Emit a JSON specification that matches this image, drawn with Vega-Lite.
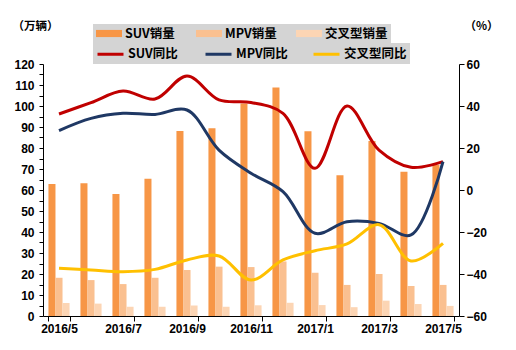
{
  "$schema": "https://vega.github.io/schema/vega-lite/v6.json",
  "width": 416,
  "height": 252,
  "autosize": {"type": "none"},
  "padding": {"left": 43, "top": 64, "right": 57, "bottom": 34},
  "background": "white",
  "config": {
    "view": {"stroke": null},
    "font": "Liberation Sans",
    "axis": {
      "labelFont": "Liberation Sans",
      "labelFontWeight": "bold",
      "labelFontSize": 12,
      "labelColor": "#000000",
      "domainColor": "#000000",
      "tickColor": "#000000",
      "grid": false,
      "titleFont": "Noto Sans CJK SC",
      "titleFontWeight": "bold",
      "titleFontSize": 11.5,
      "titleColor": "#000000"
    },
    "legend": {
      "labelFont": "Noto Sans CJK SC",
      "labelFontWeight": "bold",
      "labelFontSize": 12.5,
      "labelColor": "#000000",
      "fillColor": "#D4D4D4",
      "padding": 3
    }
  },
  "datasets": {
    "sales": [
      {"month": "2016/5", "series": "SUV销量", "value": 62.8},
      {"month": "2016/6", "series": "SUV销量", "value": 63.2},
      {"month": "2016/7", "series": "SUV销量", "value": 58.1},
      {"month": "2016/8", "series": "SUV销量", "value": 65.3},
      {"month": "2016/9", "series": "SUV销量", "value": 88.1},
      {"month": "2016/10", "series": "SUV销量", "value": 89.4},
      {"month": "2016/11", "series": "SUV销量", "value": 101.2},
      {"month": "2016/12", "series": "SUV销量", "value": 108.8},
      {"month": "2017/1", "series": "SUV销量", "value": 88.0},
      {"month": "2017/2", "series": "SUV销量", "value": 67.0},
      {"month": "2017/3", "series": "SUV销量", "value": 83.3},
      {"month": "2017/4", "series": "SUV销量", "value": 68.7},
      {"month": "2017/5", "series": "SUV销量", "value": 71.9},
      {"month": "2016/5", "series": "MPV销量", "value": 18.2},
      {"month": "2016/6", "series": "MPV销量", "value": 17.1},
      {"month": "2016/7", "series": "MPV销量", "value": 15.2},
      {"month": "2016/8", "series": "MPV销量", "value": 18.2},
      {"month": "2016/9", "series": "MPV销量", "value": 21.9},
      {"month": "2016/10", "series": "MPV销量", "value": 23.5},
      {"month": "2016/11", "series": "MPV销量", "value": 23.3},
      {"month": "2016/12", "series": "MPV销量", "value": 26.0},
      {"month": "2017/1", "series": "MPV销量", "value": 20.6},
      {"month": "2017/2", "series": "MPV销量", "value": 14.8},
      {"month": "2017/3", "series": "MPV销量", "value": 20.0},
      {"month": "2017/4", "series": "MPV销量", "value": 14.3},
      {"month": "2017/5", "series": "MPV销量", "value": 14.8},
      {"month": "2016/5", "series": "交叉型销量", "value": 6.2},
      {"month": "2016/6", "series": "交叉型销量", "value": 5.9},
      {"month": "2016/7", "series": "交叉型销量", "value": 4.4},
      {"month": "2016/8", "series": "交叉型销量", "value": 4.4},
      {"month": "2016/9", "series": "交叉型销量", "value": 5.0},
      {"month": "2016/10", "series": "交叉型销量", "value": 4.4},
      {"month": "2016/11", "series": "交叉型销量", "value": 5.1},
      {"month": "2016/12", "series": "交叉型销量", "value": 6.3},
      {"month": "2017/1", "series": "交叉型销量", "value": 5.2},
      {"month": "2017/2", "series": "交叉型销量", "value": 4.2},
      {"month": "2017/3", "series": "交叉型销量", "value": 7.3},
      {"month": "2017/4", "series": "交叉型销量", "value": 5.7},
      {"month": "2017/5", "series": "交叉型销量", "value": 4.8}
    ],
    "growth": [
      {"month": "2016/5", "series": "SUV同比", "value": 36.2},
      {"month": "2016/6", "series": "SUV同比", "value": 41.6},
      {"month": "2016/7", "series": "SUV同比", "value": 47.1},
      {"month": "2016/8", "series": "SUV同比", "value": 43.3},
      {"month": "2016/9", "series": "SUV同比", "value": 54.3},
      {"month": "2016/10", "series": "SUV同比", "value": 42.9},
      {"month": "2016/11", "series": "SUV同比", "value": 41.7},
      {"month": "2016/12", "series": "SUV同比", "value": 36.5},
      {"month": "2017/1", "series": "SUV同比", "value": 10.3},
      {"month": "2017/2", "series": "SUV同比", "value": 40.0},
      {"month": "2017/3", "series": "SUV同比", "value": 19.0},
      {"month": "2017/4", "series": "SUV同比", "value": 10.8},
      {"month": "2017/5", "series": "SUV同比", "value": 13.5},
      {"month": "2016/5", "series": "MPV同比", "value": 28.3},
      {"month": "2016/6", "series": "MPV同比", "value": 34.1},
      {"month": "2016/7", "series": "MPV同比", "value": 36.5},
      {"month": "2016/8", "series": "MPV同比", "value": 36.0},
      {"month": "2016/9", "series": "MPV同比", "value": 38.1},
      {"month": "2016/10", "series": "MPV同比", "value": 19.0},
      {"month": "2016/11", "series": "MPV同比", "value": 8.0},
      {"month": "2016/12", "series": "MPV同比", "value": -0.8},
      {"month": "2017/1", "series": "MPV同比", "value": -20.6},
      {"month": "2017/2", "series": "MPV同比", "value": -15.1},
      {"month": "2017/3", "series": "MPV同比", "value": -15.9},
      {"month": "2017/4", "series": "MPV同比", "value": -21.4},
      {"month": "2017/5", "series": "MPV同比", "value": 13.5},
      {"month": "2016/5", "series": "交叉型同比", "value": -37.3},
      {"month": "2016/6", "series": "交叉型同比", "value": -38.1},
      {"month": "2016/7", "series": "交叉型同比", "value": -38.9},
      {"month": "2016/8", "series": "交叉型同比", "value": -37.8},
      {"month": "2016/9", "series": "交叉型同比", "value": -33.3},
      {"month": "2016/10", "series": "交叉型同比", "value": -31.4},
      {"month": "2016/11", "series": "交叉型同比", "value": -42.9},
      {"month": "2016/12", "series": "交叉型同比", "value": -33.3},
      {"month": "2017/1", "series": "交叉型同比", "value": -28.9},
      {"month": "2017/2", "series": "交叉型同比", "value": -25.7},
      {"month": "2017/3", "series": "交叉型同比", "value": -16.5},
      {"month": "2017/4", "series": "交叉型同比", "value": -33.8},
      {"month": "2017/5", "series": "交叉型同比", "value": -25.4}
    ]
  },
  "encoding": {
    "x": {
      "field": "month",
      "type": "ordinal",
      "scale": {
        "domain": ["2016/5", "2016/6", "2016/7", "2016/8", "2016/9", "2016/10", "2016/11", "2016/12", "2017/1", "2017/2", "2017/3", "2017/4", "2017/5"],
        "paddingInner": 0.34,
        "paddingOuter": 0.17
      },
      "axis": {
        "title": null,
        "labelAngle": 0,
        "values": ["2016/5", "2016/7", "2016/9", "2016/11", "2017/1", "2017/3", "2017/5"],
        "tickBand": "extent",
        "tickSize": 5,
        "labelPadding": 2,
        "labelOverlap": false
      }
    }
  },
  "layer": [
    {
      "data": {"name": "sales"},
      "mark": {"type": "bar"},
      "encoding": {
        "xOffset": {
          "field": "series",
          "type": "nominal",
          "scale": {"domain": ["SUV销量", "MPV销量", "交叉型销量"], "paddingInner": 0, "paddingOuter": 0}
        },
        "y": {
          "field": "value",
          "type": "quantitative",
          "scale": {"domain": [0, 120], "nice": false},
          "axis": {
            "orient": "left",
            "title": "（万辆）",
            "titleAngle": 0,
            "titleAlign": "left",
            "titleBaseline": "middle",
            "titleX": -31,
            "titleY": -38,
            "values": [0, 5, 10, 15, 20, 25, 30, 35, 40, 45, 50, 55, 60, 65, 70, 75, 80, 85, 90, 95, 100, 105, 110, 115, 120],
            "labelExpr": "datum.value % 10 == 0 ? datum.label : ''",
            "tickSize": 4,
            "labelPadding": 5,
            "labelOverlap": false
          }
        },
        "color": {
          "field": "series",
          "type": "nominal",
          "scale": {"domain": ["SUV销量", "MPV销量", "交叉型销量"], "range": ["#F79646", "#FAC090", "#FCD5B4"]},
          "legend": {
            "title": null,
            "orient": "none",
            "legendX": 50,
            "legendY": -40,
            "direction": "horizontal",
            "columns": 3,
            "gridAlign": "all",
            "columnPadding": 8,
            "symbolType": "M-1,-0.55L3,-0.55L3,0.55L-1,0.55Z",
            "symbolSize": 169,
            "symbolStrokeWidth": 0,
            "labelOffset": 16
          }
        }
      }
    },
    {
      "data": {"name": "growth"},
      "mark": {"type": "line", "interpolate": "catmull-rom", "strokeWidth": 3},
      "encoding": {
        "y": {
          "field": "value",
          "type": "quantitative",
          "scale": {"domain": [-60, 60], "nice": false},
          "axis": {
            "orient": "right",
            "title": "（%）",
            "titleAngle": 0,
            "titleAlign": "left",
            "titleBaseline": "middle",
            "titleX": 5,
            "titleY": -38,
            "values": [-60, -40, -20, 0, 20, 40, 60],
            "tickSize": 5,
            "labelPadding": 2,
            "labelOverlap": false
          }
        },
        "stroke": {
          "field": "series",
          "type": "nominal",
          "scale": {"domain": ["SUV同比", "MPV同比", "交叉型同比"], "range": ["#C00000", "#1F3864", "#FFC000"]},
          "legend": {
            "title": null,
            "orient": "none",
            "legendX": 50,
            "legendY": -21,
            "direction": "horizontal",
            "columns": 3,
            "gridAlign": "all",
            "columnPadding": 8,
            "symbolType": "M-1,0L3,0",
            "symbolSize": 169,
            "symbolStrokeWidth": 3,
            "labelOffset": 16
          }
        }
      }
    }
  ],
  "resolve": {"scale": {"y": "independent"}}
}
